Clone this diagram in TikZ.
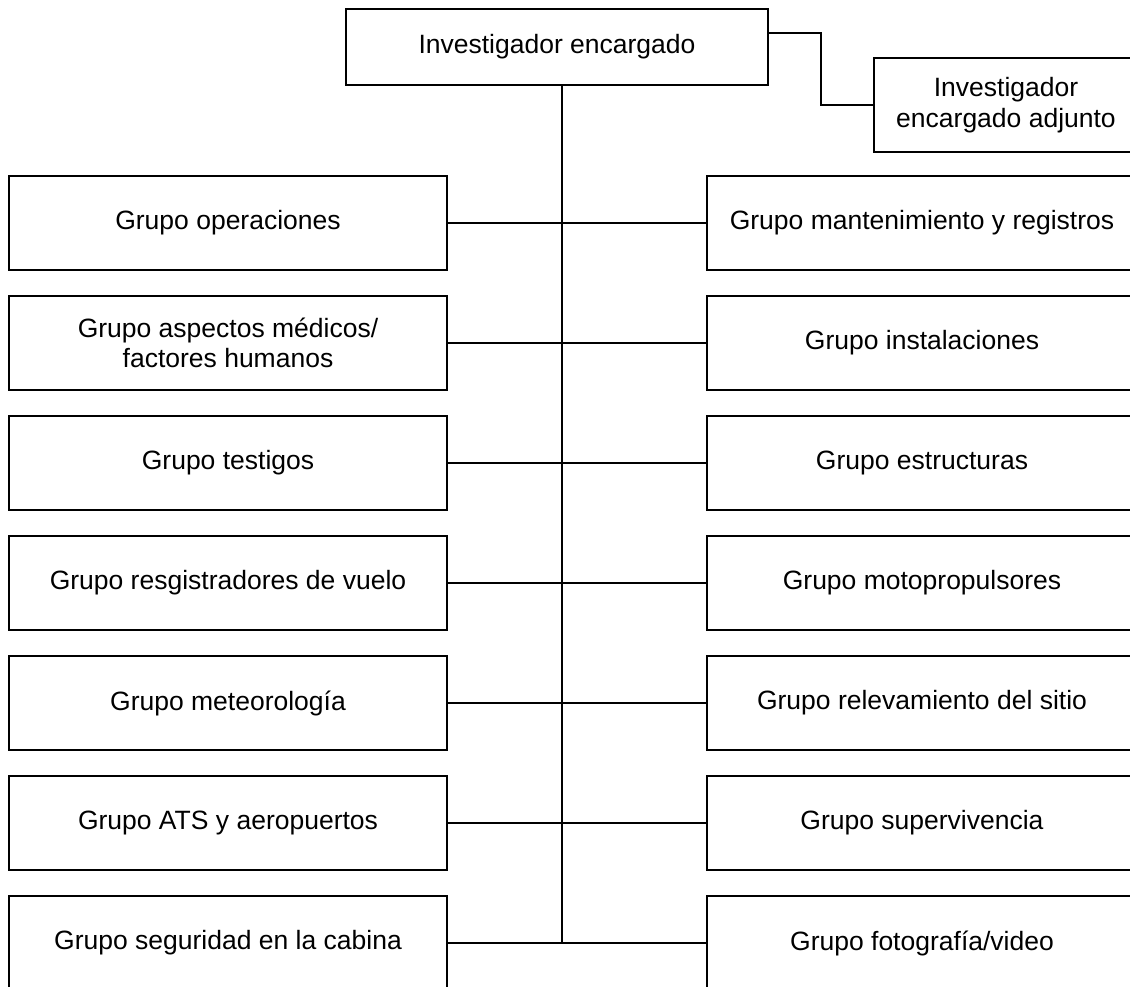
\documentclass[tikz,border=0pt]{standalone}
\usepackage{fontspec}
\setmainfont{Liberation Sans}
\begin{document}
\begin{tikzpicture}[x=1pt,y=-1pt,
  box/.style={draw=black,line width=2.6pt,rectangle,inner sep=0pt,align=center,
    font=\fontsize{26.5}{30.5}\selectfont},
  lbox/.style={box,minimum width=438pt,minimum height=94pt},
  rbox/.style={box,minimum width=430pt,minimum height=94pt},
  link/.style={draw=black,line width=1.8pt}]
\useasboundingbox (0,0) rectangle (1130,986);
\clip (0,0) rectangle (1130,986);
\fill[white] (0,0) rectangle (1130,986);
% top
\node[box,minimum width=422pt,minimum height=76pt] (top) at (557,47) {Investigador encargado};
\node[box,minimum width=264pt,minimum height=94pt] (adj) at (1006,105) {Investigador\\encargado adjunto};
% left column
\node[lbox] (L1) at (228,223) {Grupo operaciones};
\node[lbox] (L2) at (228,343) {Grupo aspectos médicos/\\factores humanos};
\node[lbox] (L3) at (228,463) {Grupo testigos};
\node[lbox] (L4) at (228,583) {Grupo resgistradores de vuelo};
\node[lbox] (L5) at (228,703) {Grupo meteorología};
\node[lbox] (L6) at (228,823) {Grupo ATS y aeropuertos};
\node[lbox] (L7) at (228,943) {Grupo seguridad en la cabina};
% right column
\node[rbox] (R1) at (922,223) {Grupo mantenimiento y registros};
\node[rbox] (R2) at (922,343) {Grupo instalaciones};
\node[rbox] (R3) at (922,463) {Grupo estructuras};
\node[rbox] (R4) at (922,583) {Grupo motopropulsores};
\node[rbox] (R5) at (922,703) {Grupo relevamiento del sitio};
\node[rbox] (R6) at (922,823) {Grupo supervivencia};
\node[rbox] (R7) at (922,943) {Grupo fotografía/video};
% connectors
\coordinate (jn) at (562,943);
\coordinate (k) at (821,33);
\draw[link] (top.south -| jn) -- (jn);
\draw[link] (top.east |- k) -- (k) |- (adj.west);
\foreach \i in {1,...,7}{
  \draw[link] (L\i.east) -- (R\i.west);
}
\end{tikzpicture}
\end{document}
